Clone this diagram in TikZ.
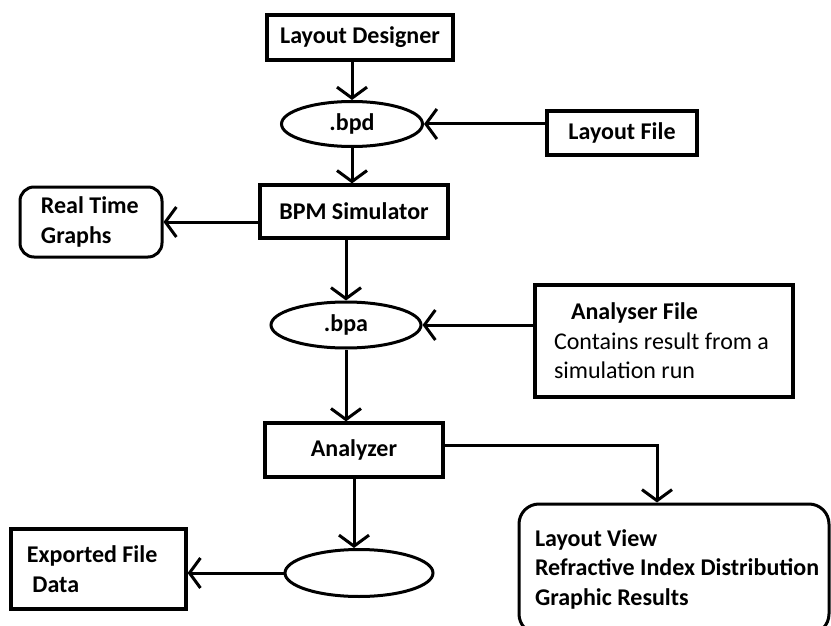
\documentclass[tikz,border=0pt]{standalone}
\usepackage{fontspec}
\setmainfont{Carlito}
\usetikzlibrary{shapes.geometric, arrows.meta, positioning}

\begin{document}
\begin{tikzpicture}[x=1pt, y=-1pt,
    font=\fontsize{24}{29.5}\selectfont\bfseries,
    box/.style={draw, line width=3.2pt, inner sep=0pt},
    oval/.style={draw, ellipse, line width=3pt, inner sep=0pt},
    roundbox/.style={draw, rounded corners=14pt, line width=3pt, inner sep=0pt},
    arr/.style={line width=3pt, -{Straight Barb[length=11pt, width=30pt]}}]
    \useasboundingbox (0,0) rectangle (831,626);

    % top part
    \node[box, minimum width=186pt, minimum height=45pt] (designer) at (360,37.5) {Layout Designer};
    \node[oval, minimum width=141pt, minimum height=45pt] (bpd) at (352,124) {.bpd};
    \node[box, minimum width=150pt, minimum height=44pt] (layoutfile) at (622,133) {Layout File};
    \node[box, minimum width=188pt, minimum height=53pt] (simulator) at (354,211.5) {BPM Simulator};
    \node[roundbox, minimum width=142pt, minimum height=70pt, text width=100pt, align=flush left] (graphs) at (91,222) {Real Time\\Graphs};

    % middle part
    \node[oval, minimum width=150pt, minimum height=46pt] (bpa) at (346,325) {.bpa};
    \node[box, minimum width=258pt, minimum height=112pt, text width=220pt, align=flush left] (analyserfile) at (664,341)
      {\hspace*{17pt}Analyser File\\{\mdseries Contains result from a}\\{\mdseries simulation run}};
    \node[box, minimum width=178pt, minimum height=54pt] (analyzer) at (354,450) {Analyzer};

    % bottom part
    \node[oval, minimum width=148pt, minimum height=47pt] (output) at (359,573) {};
    \node[box, minimum width=175pt, minimum height=80pt, text width=143pt, align=flush left] (exported) at (98.5,569) {Exported File\\\ Data};
    \node[roundbox, rounded corners=20pt, minimum width=310pt, minimum height=130pt, text width=278pt, align=flush left] (results) at (674,569)
      {Layout View\\\makebox[\linewidth][l]{Refractive Index Distribution}\\Graphic Results};

    % connectors
    \draw[arr] (bpd.north |- designer.south) -- (bpd.north);
    \draw[arr] (layoutfile.west |- bpd.east) -- (bpd.east);
    \draw[arr] (bpd.south) -- (bpd.south |- simulator.north);
    \draw[arr] (simulator.west |- graphs.east) -- (graphs.east);
    \draw[arr] (bpa.north |- simulator.south) -- (bpa.north);
    \draw[arr] (analyserfile.west |- bpa.east) -- (bpa.east);
    \draw[arr] (bpa.south) -- (bpa.south |- analyzer.north);
    \draw[arr] (analyzer.south) -- (analyzer.south |- output.north);
    \draw[arr] (output.west) -- (output.west -| exported.east);
    \draw[arr] ([yshift=5pt]analyzer.east) -| ([xshift=-17pt]results.north);
\end{tikzpicture}
\end{document}
